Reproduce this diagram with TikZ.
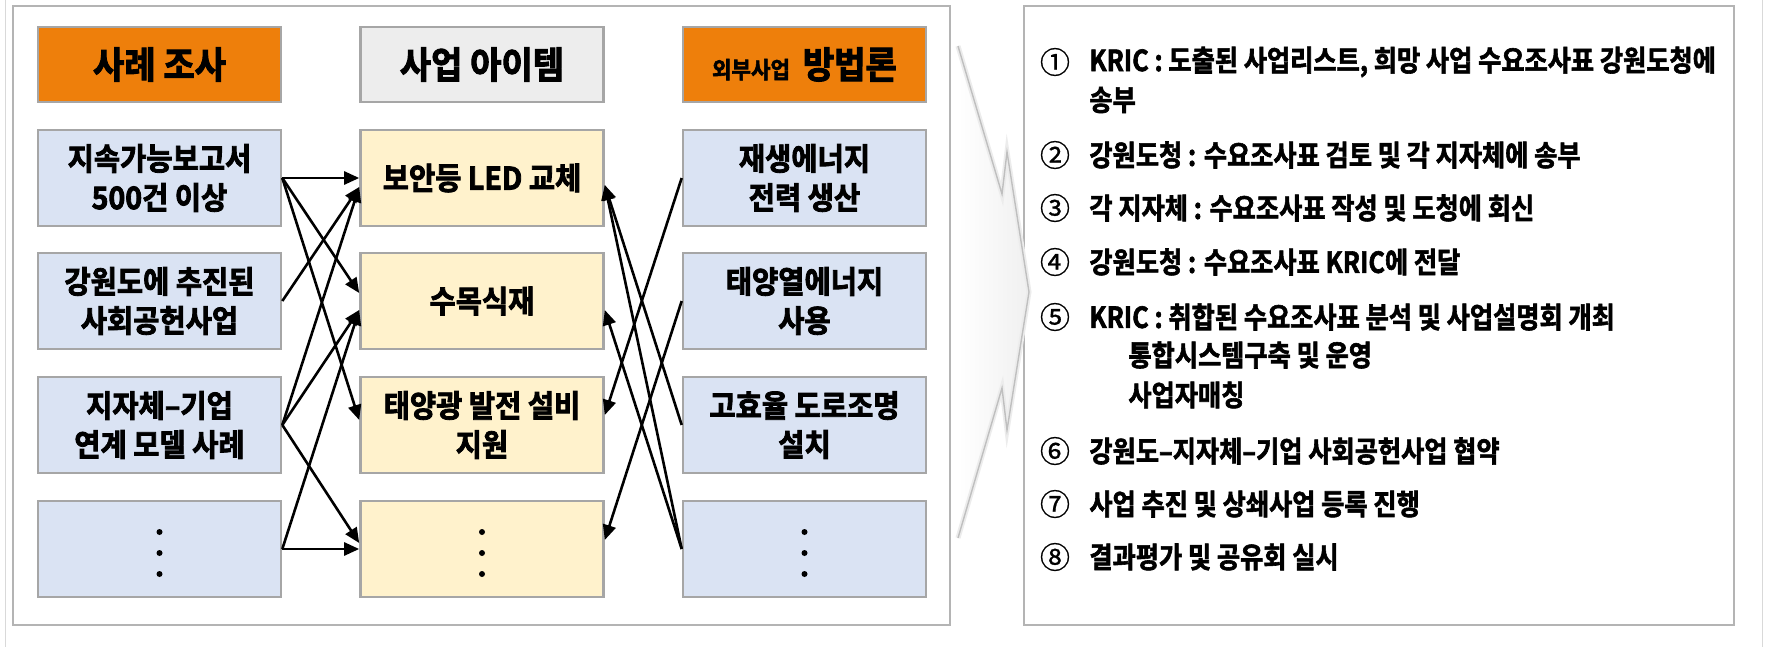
\documentclass[tikz,border=0pt]{standalone}
\usepackage{fontspec}
\usetikzlibrary{arrows.meta}
\newfontfamily\kr{Noto Sans CJK KR Bold}[FakeStretch=0.92, FakeBold=2.6]
\newfontfamily\krl{Noto Sans CJK KR Bold}[FakeStretch=0.87, FakeBold=2.0]
\newfontfamily\krn{Noto Sans CJK KR}[FakeBold=0.8]
\definecolor{orng}{HTML}{EE7F0B}
\definecolor{hgray}{HTML}{EDEDED}
\definecolor{lblue}{HTML}{DAE3F3}
\definecolor{lyel}{HTML}{FFF2CC}
\definecolor{bgray}{HTML}{A6A6A6}
\definecolor{pgray}{HTML}{B4B4B4}
\begin{document}
\begin{tikzpicture}[x=0.5pt,y=-0.5pt,
  box/.style={draw=bgray, line width=1.3pt, minimum width=121.5pt, minimum height=48pt, inner sep=0pt, align=center, font=\kr\fontsize{15.5pt}{19.5pt}\selectfont},
  hdr/.style={box, minimum height=37.5pt, font=\kr\fontsize{18.5pt}{22pt}\selectfont},
  arr/.style={line width=1.3pt, -{Triangle[length=7.5pt,width=6.5pt]}},
  item/.style={anchor=west, inner sep=0pt, font=\krl\fontsize{14.5pt}{17pt}\selectfont},
  num/.style={anchor=center, inner sep=0pt, font=\krn\fontsize{15pt}{17pt}\selectfont},
  panel/.style={draw=pgray, line width=1pt},
  edge/.style={draw=gray!30, line width=0.5pt}
]
\useasboundingbox (0,0) rectangle (1767,647);
\fill[white] (0,0) rectangle (1767,647);
\draw[edge] (5.5,0) -- (5.5,647);
\draw[edge] (1762,0) -- (1762,647);

% panels
\draw[panel] (13,6) rectangle (950,625);
\draw[panel] (1024,6) rectangle (1734,625);

% chevron
\shade[left color=white, right color=gray!12] (958,46) -- (1002,194) -- (1007,152) -- (1029,292) -- (1007,430) -- (1002,388) -- (958,538) -- cycle;
\draw[gray!15, line width=2.5pt, line join=miter] (958,46) -- (1002,194) -- (1007,152) -- (1029,292) -- (1007,430) -- (1002,388) -- (958,538);
\draw[gray!50, line width=0.7pt, line join=miter] (958,46) -- (1002,194) -- (1007,152) -- (1029,292) -- (1007,430) -- (1002,388) -- (958,538);

% headers
\node[hdr, fill=orng] (h1) at (159.5,64.5) {사례 조사};
\node[hdr, fill=hgray] (h2) at (482,64.5) {사업 아이템};
\node[hdr, fill=orng] (h3) at (804.5,64.5) {{\fontsize{11.5pt}{14pt}\selectfont 외부사업}\hspace{0.35em}방법론};

% column 1
\node[box, fill=lblue] (r1) at (159.5,178) {지속가능보고서\\500건 이상};
\node[box, fill=lblue] (r2) at (159.5,301) {강원도에 추진된\\사회공헌사업};
\node[box, fill=lblue] (r3) at (159.5,425) {지자체–기업\\연계 모델 사례};
\node[box, fill=lblue] (r4) at (159.5,549) {};
% column 2
\node[box, fill=lyel] (m1) at (482,178) {보안등 LED 교체};
\node[box, fill=lyel] (m2) at (482,301) {수목식재};
\node[box, fill=lyel] (m3) at (482,425) {태양광 발전 설비\\지원};
\node[box, fill=lyel] (m4) at (482,549) {};
% column 3
\node[box, fill=lblue] (o1) at (804.5,178) {재생에너지\\전력 생산};
\node[box, fill=lblue] (o2) at (804.5,301) {태양열에너지\\사용};
\node[box, fill=lblue] (o3) at (804.5,425) {고효율 도로조명\\설치};
\node[box, fill=lblue] (o4) at (804.5,549) {};

\foreach \b in {r4,m4,o4}{
  \foreach \d in {-17,4,25}{
    \fill (\b.center) ++(0,\d) circle (3);
  }
}

% arrows left
\draw[arr] (r1.east) -- (m1.west);
\draw[arr] (r1.east) -- ([yshift=4pt]m2.west);
\draw[arr] (r1.east) -- ([yshift=2.5pt]m3.west);
\draw[arr] (r2.east) -- ([yshift=-4.5pt]m1.west);
\draw[arr] (r3.east) -- ([yshift=-4.5pt]m1.west);
\draw[arr] (r3.east) -- ([yshift=-4.5pt]m2.west);
\draw[arr] (r3.east) -- ([yshift=3pt]m4.west);
\draw[arr] (r4.east) -- ([yshift=-4.5pt]m2.west);
\draw[arr] (r4.east) -- (m4.west);
% arrows right
\draw[arr] (o1.west) -- ([yshift=5pt]m3.east);
\draw[arr] (o2.west) -- ([yshift=4.5pt]m4.east);
\draw[arr] (o3.west) -- ([yshift=-3.5pt]m1.east);
\draw[arr] (o4.west) -- ([yshift=-3.5pt]m1.east);
\draw[arr] (o4.west) -- ([yshift=-4.5pt]m2.east);

% right panel list
\node[num] (n1) at (1055,62) {①};
\node[item] (t1) at (1089,62) {KRIC : 도출된 사업리스트, 희망 사업 수요조사표 강원도청에};
\node[item] (t1b) at (1089,100) {송부};
\node[num] (n2) at (1055,155) {②};
\node[item] (t2) at (1089,155) {강원도청 : 수요조사표 검토 및 각 지자체에 송부};
\node[num] (n3) at (1055,208) {③};
\node[item] (t3) at (1089,208) {각 지자체 : 수요조사표 작성 및 도청에 회신};
\node[num] (n4) at (1055,262) {④};
\node[item] (t4) at (1089,262) {강원도청 : 수요조사표 KRIC에 전달};
\node[num] (n5) at (1055,317) {⑤};
\node[item] (t5) at (1089,317) {KRIC : 취합된 수요조사표 분석 및 사업설명회 개최};
\node[item] (t5b) at (1128,355) {통합시스템구축 및 운영};
\node[item] (t5c) at (1128,395) {사업자매칭};
\node[num] (n6) at (1055,451) {⑥};
\node[item] (t6) at (1089,451) {강원도–지자체–기업 사회공헌사업 협약};
\node[num] (n7) at (1055,504) {⑦};
\node[item] (t7) at (1089,504) {사업 추진 및 상쇄사업 등록 진행};
\node[num] (n8) at (1055,557) {⑧};
\node[item] (t8) at (1089,557) {결과평가 및 공유회 실시};
\end{tikzpicture}
\end{document}
